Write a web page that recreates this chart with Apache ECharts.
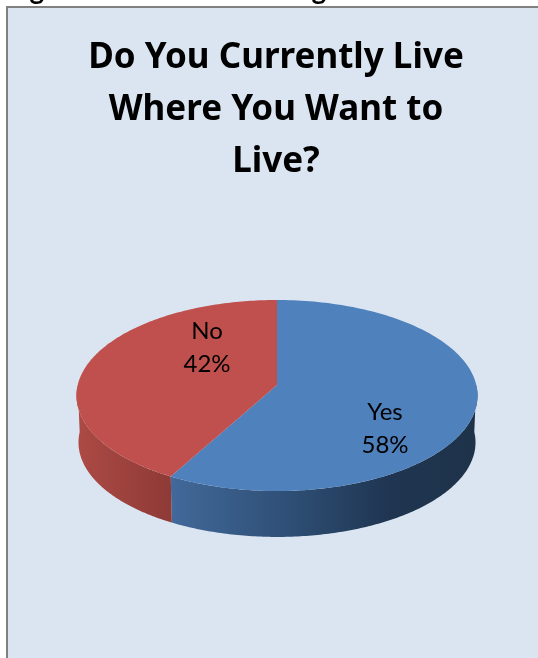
<!DOCTYPE html>
<html>
<head>
<meta charset="utf-8">
<style>html,body{margin:0;padding:0;background:#fff}#c{position:absolute;left:0;top:0;width:538px;height:658px}</style>
<script src="https://cdn.jsdelivr.net/npm/echarts@6/dist/echarts.min.js"></script>
</head>
<body>
<div id="c"></div>
<script>
var categories = ['Yes', 'No'];
var seriesValues = [58, 42];
var chartTitle = 'Do You Currently Live\nWhere You Want to\nLive?';
var croppedCaptionGlyphs = ['g', 'g'];

var TOP_COLORS = {Yes: '#4F81BD', No: '#C0504D'};
var SIDE_STOPS = {
  Yes: [[0, '#41699A'], [0.4, '#2E4E74'], [0.72, '#1F3551'], [1, '#1E3349']],
  No: [[0, '#AD4A45'], [1, '#8E3A36']]
};
var SIDE_RANGE = {Yes: [170, 477], No: [76, 172]};
var LABEL_POS = {Yes: [385, 429], No: [207, 347.5]};
var CAPTION_X = [37, 319];

// Projected disc: a circle seen in perspective, so the pie's apex sits above the ellipse centre.
var CX = 277, CY = 385, A = 94.35, B = 199.3, K = -0.11;
var DEPTH_Y = 47, DEPTH_S = 0.99;

function project(t, bottom) {
  var u = Math.sin(t), v = -Math.cos(t), w = 1 + K * v;
  var s = bottom ? DEPTH_S : 1;
  return [CX + s * B * u / w, CY + (bottom ? DEPTH_Y : 0) + s * A * v / w];
}
function angles(i) {
  var total = seriesValues.reduce(function (a, b) { return a + b; }, 0), before = 0;
  for (var k = 0; k < i; k++) before += seriesValues[k];
  return [before / total * 2 * Math.PI, (before + seriesValues[i]) / total * 2 * Math.PI];
}
function arc(a0, a1, bottom) {
  var pts = [], n = 160;
  for (var i = 0; i <= n; i++) pts.push(project(a0 + (a1 - a0) * i / n, bottom));
  return pts;
}
function sideItem(params, api) {
  var name = categories[params.dataIndex];
  var a = angles(params.dataIndex);
  // Only the front half of the wall can be seen.
  var a0 = Math.max(a[0], Math.PI / 2), a1 = Math.min(a[1], 3 * Math.PI / 2);
  var pts = arc(a0, a1, false).concat(arc(a0, a1, true).reverse());
  var r = SIDE_RANGE[name];
  return {
    type: 'polygon', shape: {points: pts},
    style: {fill: new echarts.graphic.LinearGradient(r[0], 0, r[1], 0,
      SIDE_STOPS[name].map(function (s) { return {offset: s[0], color: s[1]}; }), true)}
  };
}
function topItem(params, api) {
  var name = categories[params.dataIndex];
  var a = angles(params.dataIndex);
  var pts = [[CX, CY]].concat(arc(a[0], a[1], false));
  var p = LABEL_POS[name];
  return {
    type: 'group',
    children: [
      {type: 'polygon', shape: {points: pts}, style: {fill: TOP_COLORS[name]}},
      {type: 'text', z2: 10, style: {
        x: p[0], y: p[1], text: name + '\n' + api.value(0) + '%',
        fill: '#000', font: '400 24px Lato', lineHeight: 33,
        align: 'center', verticalAlign: 'middle'
      }}
    ]
  };
}
var chart = echarts.init(document.getElementById('c'), null, {renderer: 'canvas'});
var graphics = [{type: 'rect', z: -10, shape: {x: 7, y: 7, width: 540, height: 660},
  style: {fill: '#DBE5F1', stroke: '#808080', lineWidth: 2}}];
croppedCaptionGlyphs.forEach(function (g, i) {
  graphics.push({type: 'text', z: -5, style: {x: CAPTION_X[i], y: 4, text: g, fill: '#000',
    font: '700 28px Lato', align: 'center', verticalAlign: 'bottom'}});
});
chart.setOption({
  animation: false,
  backgroundColor: '#fff',
  graphic: graphics,
  title: {
    text: chartTitle, left: 271, top: 27, textAlign: 'center',
    textStyle: {fontFamily: 'Noto Sans', fontWeight: 700, fontSize: 35, lineHeight: 52, color: '#000'}
  },
  series: [
    {type: 'custom', coordinateSystem: 'none', renderItem: sideItem, data: seriesValues, z: 1, silent: true},
    {type: 'custom', coordinateSystem: 'none', renderItem: topItem, data: seriesValues, z: 2, silent: true}
  ]
});
</script>
</body>
</html>
